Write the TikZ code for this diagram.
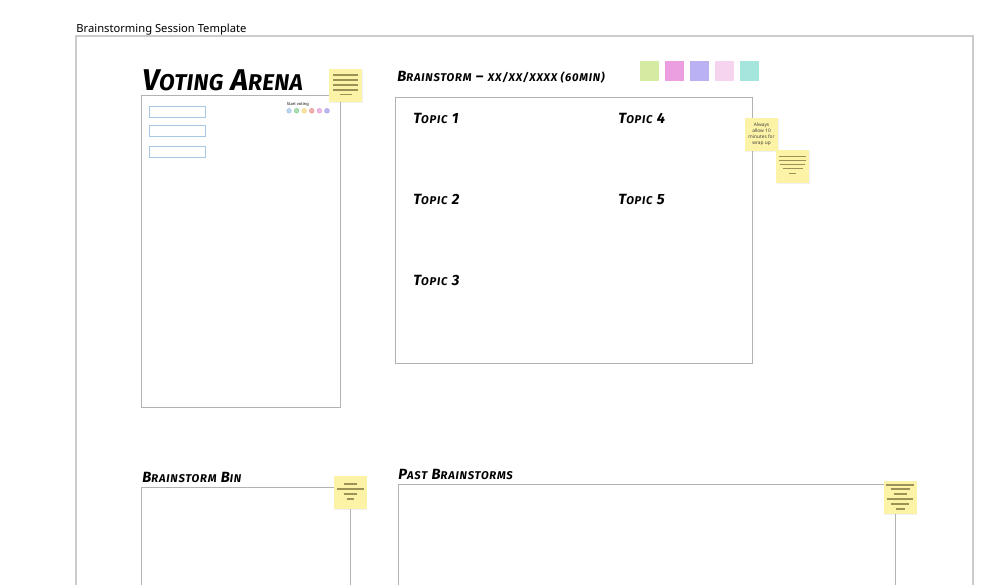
\documentclass[tikz,border=0pt]{standalone}
\usepackage{fontspec}
\setmainfont{Noto Sans}
\newfontfamily\handfont[LetterSpace=7]{Fira Sans}
\newfontfamily\bighandfont[LetterSpace=1.5]{Fira Sans}
\usetikzlibrary{calc,positioning,shadows}

\definecolor{notefill}{HTML}{FDF3A6}
\definecolor{noteink}{HTML}{9C9257}
\definecolor{inputblue}{HTML}{A9C8E6}
\definecolor{swgreen}{HTML}{D6EBA2}
\definecolor{swpink}{HTML}{EB9EE0}
\definecolor{swlilac}{HTML}{B9B1F1}
\definecolor{swrose}{HTML}{F6D3EE}
\definecolor{swteal}{HTML}{A4E5DD}
\definecolor{vblue}{HTML}{9EC3E6}
\definecolor{vgreen}{HTML}{86CF8E}
\definecolor{vyellow}{HTML}{F2D77C}
\definecolor{vred}{HTML}{E58C8C}
\definecolor{vpink}{HTML}{E39BD6}
\definecolor{vpurple}{HTML}{9C98E6}

% smaller capitals for the hand lettering
\makeatletter
\newcommand\lowcaps[1]{{\fontsize{\dimexpr\f@size pt*76/100\relax}{\f@baselineskip}\selectfont#1}}
\makeatother

\begin{document}
\begin{tikzpicture}[x=0.5pt,y=-0.5pt,
        frame/.style={draw=black!20,line width=0.7pt},
        panel/.style={draw=black!30,line width=0.5pt},
        inputbox/.style={draw=inputblue,line width=0.45pt},
        hand/.style={anchor=base west,inner sep=0pt,font=\handfont\bfseries\itshape\fontsize{7.4}{8}\selectfont},
        bighand/.style={hand,font=\bighandfont\bfseries\itshape\fontsize{15}{16}\selectfont},
        note/.style={fill=notefill,minimum size=16.5pt,inner sep=0pt,
            drop shadow={opacity=0.12,shadow xshift=0.3pt,shadow yshift=-0.6pt}},
        noteline/.style={draw=noteink,line width=0.7pt},
        swatch/.style={fill=#1,minimum width=9.5pt,minimum height=10pt,inner sep=0pt},
        vdot/.style={circle,fill=#1!70,draw=#1,line width=0.2pt,minimum size=2.4pt,inner sep=0pt}]
    \useasboundingbox (0,0) rectangle (1000,584);
    \clip (0,0) rectangle (1000,584);

    % board frame and its title
    \node[anchor=base west,inner sep=0pt,font=\fontsize{5.6}{6}\selectfont] (title) at (76,32) {Brainstorming Session Template};
    \draw[frame] (76,36) rectangle (973,600);

    % Voting arena
    \node[bighand] (vhead) at (142,90) {V\lowcaps{OTING} A\lowcaps{RENA}};
    \draw[panel] (141,95) rectangle (340,407);
    \foreach \y in {106,125,146}
        \draw[inputbox] (149,\y) rectangle (205,\y+11);
    \node[anchor=base west,inner sep=0pt,font=\fontsize{2}{2}\selectfont] (startv) at (286.5,105) {Start voting};
    \foreach \c [count=\i from 0] in {vblue,vgreen,vyellow,vred,vpink,vpurple}
        \node[vdot=\c] (vd\i) at (289+7.6*\i,110.8) {};
    \node[note] (vnote) at (345.5,85.5) {};
    \foreach \dy/\w in {-10.5/25,-5.5/25,-0.5/25,4.5/25,9/12}
        \draw[noteline] ($(vnote.center)+(-\w/2,\dy)$) -- ++(\w,0);

    % Brainstorm board
    \node[hand] (bhead) at (397,81) {B\lowcaps{RAINSTORM} – \lowcaps{XX/XX/XXXX (60MIN)}};
    \foreach \c [count=\i from 0] in {swgreen,swpink,swlilac,swrose,swteal}
        \node[swatch=\c] (sw\i) at (649.5+25*\i,71) {};
    \draw[panel] (395,97) rectangle (752,363);
    \node[hand] (t1) at (413,123) {T\lowcaps{OPIC} 1};
    \node[hand] (t2) at (413,204) {T\lowcaps{OPIC} 2};
    \node[hand] (t3) at (413,285) {T\lowcaps{OPIC} 3};
    \node[hand] (t4) at (618,123) {T\lowcaps{OPIC} 4};
    \node[hand] (t5) at (618,204) {T\lowcaps{OPIC} 5};
    \node[note,align=center,font=\fontsize{2.4}{3}\selectfont,text=black!75] (tipnote) at (761.5,134) {Always\\allow 10\\minutes for\\wrap up};
    \node[note] (bnote) at (792.5,166) {};
    \foreach \dy/\w in {-9.5/27,-5.5/27,-1.5/25,2.5/20,7.5/7}
        \draw[noteline] ($(bnote.center)+(-\w/2,\dy)$) -- ++(\w,0);

    % Brainstorm bin
    \node[hand] (binhead) at (142,482) {B\lowcaps{RAINSTORM} B\lowcaps{IN}};
    \draw[panel] (350,600) -- (350,487) -- (141,487) -- (141,600);
    \node[note] (binnote) at (350,492) {};
    \foreach \dy/\w in {-8/13,-3/27,2/13,7/7}
        \draw[noteline] ($(binnote.center)+(-\w/2,\dy)$) -- ++(\w,0);

    % Past brainstorms
    \node[hand] (pasthead) at (398,479) {P\lowcaps{AST} B\lowcaps{RAINSTORMS}};
    \draw[panel] (895,600) -- (895,484) -- (398,484) -- (398,600);
    \node[note] (pastnote) at (900,497.5) {};
    \foreach \dy/\w in {-12.5/28,-8.5/19,-3.5/13,1.5/26,6.5/18,11.5/9}
        \draw[noteline] ($(pastnote.center)+(-\w/2,\dy)$) -- ++(\w,0);
\end{tikzpicture}
\end{document}
